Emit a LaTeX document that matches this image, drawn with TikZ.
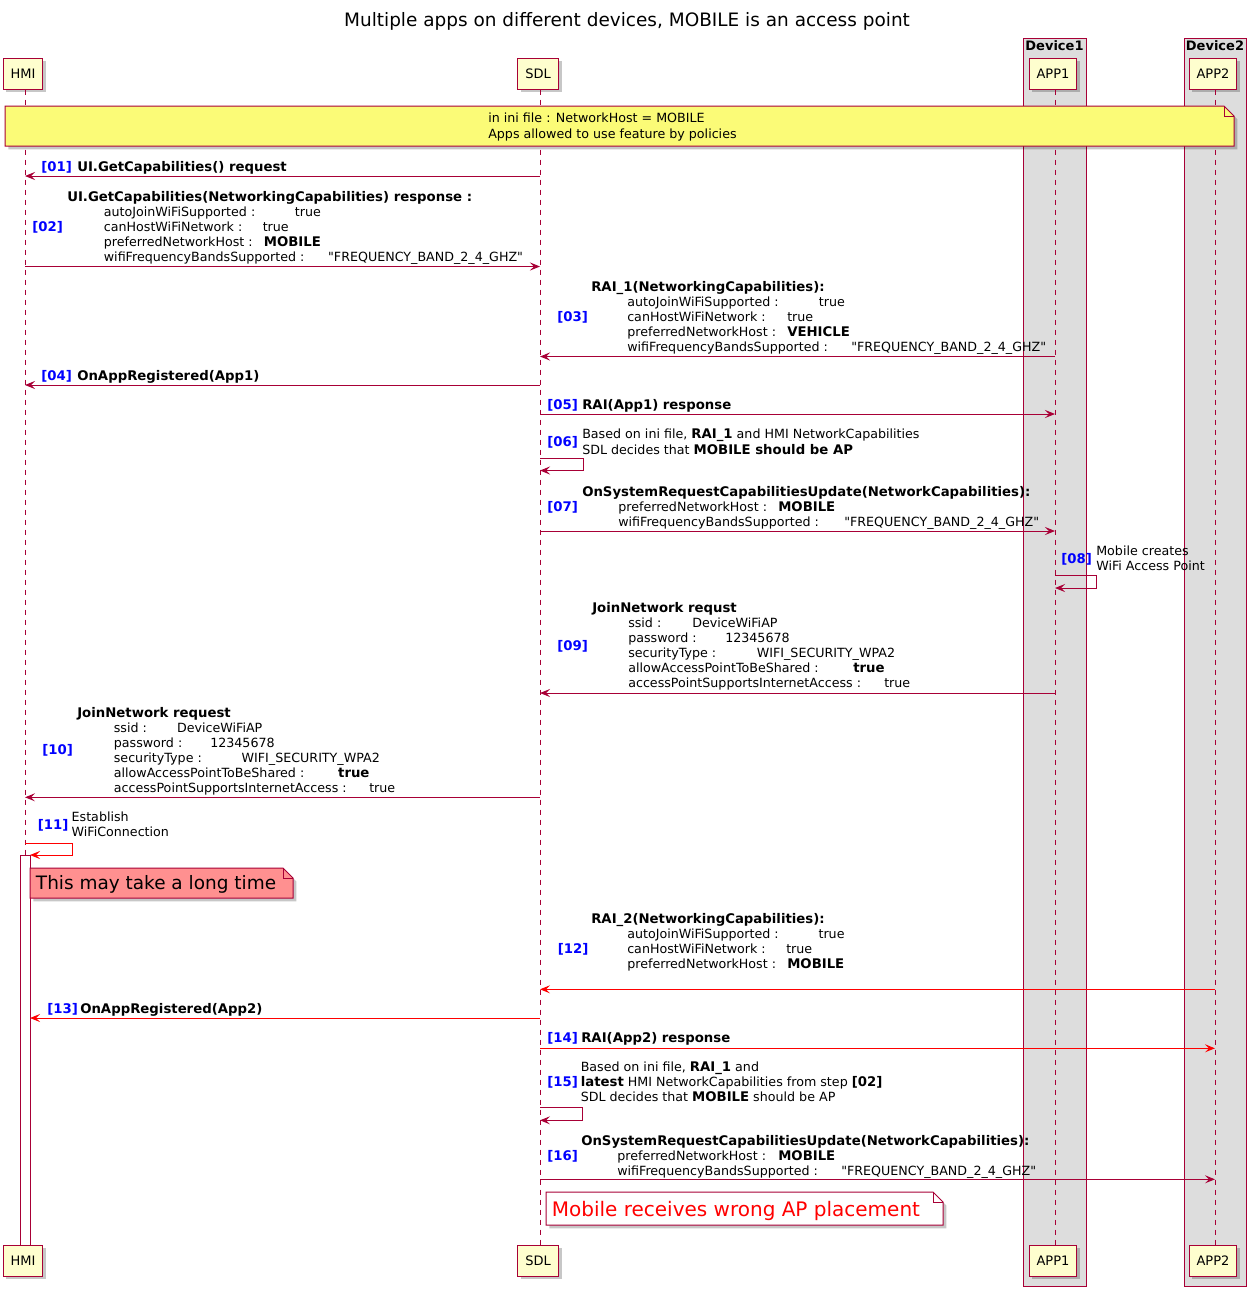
\documentclass[tikz,border=0pt]{standalone}
\usepackage{fontspec}
\setmainfont{DejaVu Sans}[Ligatures=TeXOff]
\usetikzlibrary{arrows.meta,shadows}
\definecolor{bord}{HTML}{A80036}
\definecolor{partfill}{HTML}{FEFECE}
\definecolor{noteY}{HTML}{FBFB77}
\definecolor{noteR}{HTML}{FF9090}
\definecolor{boxg}{HTML}{DDDDDD}
\definecolor{stepblue}{HTML}{0000FF}
\definecolor{redline}{HTML}{FF0000}
\newcommand\lb[4][]{\node[txt,#1] (#2) at (#3) {#4};}
\newcommand\freq{"FREQUENCY\_BAND\_2\_4\_GHZ"}
\newcommand\bfs{\fontsize{9.95}{11}\selectfont\bfseries}
\tikzset{
  txt/.style={anchor=base west, inner sep=0pt, font=\fontsize{9.5}{11}\selectfont},
  bftxt/.style={font=\bfs},
  num/.style={bftxt, text=stepblue},
  shad/.style={drop shadow={shadow xshift=2.5pt, shadow yshift=-2.5pt, fill=black, opacity=0.22}},
  part/.style={draw=bord, fill=partfill, line width=0.75pt, inner xsep=5.6pt, inner ysep=0pt,
    minimum height=23.25pt, font=\fontsize{9.75}{11}\selectfont, shad},
  lifeline/.style={draw=bord, line width=0.75pt, dash pattern=on 3.75pt off 3.75pt},
  msg/.style={draw=bord, line width=0.75pt, -{Stealth[length=7.5pt,width=6pt,inset=3pt]}},
  rmsg/.style={msg, draw=redline},
  notebox/.style={draw=bord, line width=0.75pt, shad},
  devbox/.style={draw=bord, fill=boxg, line width=0.75pt},
}
\begin{document}
\begin{tikzpicture}[x=0.75pt,y=-0.75pt]
\useasboundingbox (0,0) rectangle (1256,1296);

% title
\node[font=\fontsize{13.85}{16}\selectfont, inner sep=0pt] (title) at (627,21) {Multiple apps on different devices, MOBILE is an access point};

% device boxes
\filldraw[devbox] (1023,38) rectangle (1086,1286);
\filldraw[devbox] (1184,38) rectangle (1246,1286);
\node[font=\fontsize{9.75}{11}\selectfont\bfseries, anchor=base, inner sep=0pt] (dev1) at (1054.5,50) {Device1};
\node[font=\fontsize{9.75}{11}\selectfont\bfseries, anchor=base, inner sep=0pt] (dev2) at (1215,50) {Device2};

% participants
\node[part] (hmiT) at (23,73.5) {HMI};
\node[part] (sdlT) at (538,73.5) {SDL};
\node[part] (app1T) at (1053,73.5) {APP1};
\node[part] (app2T) at (1213,73.5) {APP2};
\node[part] (hmiB) at (23,1260.5) {HMI};
\node[part] (sdlB) at (538,1260.5) {SDL};
\node[part] (app1B) at (1053,1260.5) {APP1};
\node[part] (app2B) at (1213,1260.5) {APP2};

% lifelines
\draw[lifeline] ([xshift=1.5pt]hmiT.south) -- ([xshift=1.5pt]hmiB.north);
\draw[lifeline] ([xshift=1.5pt]sdlT.south) -- ([xshift=1.5pt]sdlB.north);
\draw[lifeline] ([xshift=1.5pt]app1T.south) -- ([xshift=1.5pt]app1B.north);
\draw[lifeline] ([xshift=1.5pt]app2T.south) -- ([xshift=1.5pt]app2B.north);

% top note
\filldraw[notebox, fill=noteY] (5,106) -- (1224,106) -- (1234,116) -- (1234,146) -- (5,146) -- cycle;
\draw[draw=bord, line width=0.75pt] (1224,106) -- (1224,116) -- (1234,116);
\lb{n1a}{488,122.5}{in ini file : NetworkHost = MOBILE}
\lb{n1b}{488,138.5}{Apps allowed to use feature by policies}

% [01]
\lb[num]{s01}{41,171.5}{[01]}
\lb[bftxt]{t01}{77,171.5}{UI.GetCapabilities() request}
\coordinate (m01a) at (540,176); \coordinate (m01b) at (25,176);
\draw[msg] (m01a) -- (m01b);

% [02]
\lb[num]{s02}{32,231}{[02]}
\lb[bftxt]{t02h}{67,201}{UI.GetCapabilities(NetworkingCapabilities) response :}
\lb{t02a}{103.6,216}{autoJoinWiFiSupported :}
\lb{t02av}{294.6,216}{true}
\lb{t02b}{103.6,231}{canHostWiFiNetwork :}
\lb{t02bv}{262.5,231}{true}
\lb{t02c}{103.6,246}{preferredNetworkHost :}
\lb[bftxt]{t02cv}{263.6,246}{MOBILE}
\lb{t02d}{103.6,261}{wifiFrequencyBandsSupported :}
\lb{t02dv}{327.9,261}{\freq}
\coordinate (m02a) at (25,266.5); \coordinate (m02b) at (540,266.5);
\draw[msg] (m02a) -- (m02b);

% [03]
\lb[num]{s03}{557,321}{[03]}
\lb[bftxt]{t03h}{591,291}{RAI\_1(NetworkingCapabilities):}
\lb{t03a}{627,306}{autoJoinWiFiSupported :}
\lb{t03av}{818.6,306}{true}
\lb{t03b}{627,321}{canHostWiFiNetwork :}
\lb{t03bv}{787,321}{true}
\lb{t03c}{627,336}{preferredNetworkHost :}
\lb[bftxt]{t03cv}{787,336}{VEHICLE}
\lb{t03d}{627,351}{wifiFrequencyBandsSupported :}
\lb{t03dv}{851,351}{\freq}
\coordinate (m03a) at (1055,356.5); \coordinate (m03b) at (540,356.5);
\draw[msg] (m03a) -- (m03b);

% [04]
\lb[num]{s04}{41,380}{[04]}
\lb[bftxt]{t04}{77,380}{OnAppRegistered(App1)}
\coordinate (m04a) at (540,385); \coordinate (m04b) at (25,385);
\draw[msg] (m04a) -- (m04b);

% [05]
\lb[num]{s05}{547,409.5}{[05]}
\lb[bftxt]{t05}{582,409.5}{RAI(App1) response}
\coordinate (m05a) at (540,414); \coordinate (m05b) at (1055,414);
\draw[msg] (m05a) -- (m05b);

% [06]
\lb[num]{s06}{547,446}{[06]}
\lb{t06a}{582,438}{Based on ini file, {\bfs RAI\_1} and HMI NetworkCapabilities}
\lb{t06b}{582,454}{SDL decides that {\bfs MOBILE should be AP}}
\coordinate (m06) at (540,458);
\draw[msg] (m06) -- ++(43,0) -- ++(0,12.5) -- ++(-43,0);

% [07]
\lb[num]{s07}{547,511}{[07]}
\lb[bftxt]{t07h}{582,496}{OnSystemRequestCapabilitiesUpdate(NetworkCapabilities):}
\lb{t07a}{618,511}{preferredNetworkHost :}
\lb[bftxt]{t07av}{778,511}{MOBILE}
\lb{t07b}{618,526}{wifiFrequencyBandsSupported :}
\lb{t07bv}{844,526}{\freq}
\coordinate (m07a) at (540,531); \coordinate (m07b) at (1055,531);
\draw[msg] (m07a) -- (m07b);

% [08]
\lb[num]{s08}{1061,563}{[08]}
\lb{t08a}{1096,555}{Mobile creates}
\lb{t08b}{1096,570}{WiFi Access Point}
\coordinate (m08) at (1055,575);
\draw[msg] (m08) -- ++(41.5,0) -- ++(0,13) -- ++(-41.5,0);

% [09]
\lb[num]{s09}{557,650.5}{[09]}
\lb[bftxt]{t09h}{592,612.5}{JoinNetwork requst}
\lb{t09a}{628,627.5}{ssid :}
\lb{t09av}{692,627.5}{DeviceWiFiAP}
\lb{t09b}{628,642.5}{password :}
\lb{t09bv}{725,642.5}{12345678}
\lb{t09c}{628,657.5}{securityType :}
\lb{t09cv}{756.6,657.5}{WIFI\_SECURITY\_WPA2}
\lb{t09d}{628,672.5}{allowAccessPointToBeShared :}
\lb[bftxt]{t09dv}{853,672.5}{true}
\lb{t09e}{628,687.5}{accessPointSupportsInternetAccess :}
\lb{t09ev}{884,687.5}{true}
\coordinate (m09a) at (1055,693); \coordinate (m09b) at (540,693);
\draw[msg] (m09a) -- (m09b);

% [10]
\lb[num]{s10}{42,754.5}{[10]}
\lb[bftxt]{t10h}{77,717}{JoinNetwork request}
\lb{t10a}{113.6,732}{ssid :}
\lb{t10av}{176.8,732}{DeviceWiFiAP}
\lb{t10b}{113.6,747}{password :}
\lb{t10bv}{210,747}{12345678}
\lb{t10c}{113.6,762}{securityType :}
\lb{t10cv}{241.4,762}{WIFI\_SECURITY\_WPA2}
\lb{t10d}{113.6,777}{allowAccessPointToBeShared :}
\lb[bftxt]{t10dv}{337.9,777}{true}
\lb{t10e}{113.6,792}{accessPointSupportsInternetAccess :}
\lb{t10ev}{369,792}{true}
\coordinate (m10a) at (540,797.3); \coordinate (m10b) at (25,797.3);
\draw[msg] (m10a) -- (m10b);

% [11]
\lb[num]{s11}{37.5,829.5}{[11]}
\lb{t11a}{71.4,821.5}{Establish}
\lb{t11b}{71.4,836.5}{WiFiConnection}

% activation bar
\filldraw[draw=bord, fill=white, line width=0.75pt] (20,855) rectangle (30,1245);
\coordinate (m11) at (25,843); \coordinate (act) at (30,855);
\draw[rmsg] (m11) -- (72.5,843) -- (72.5,855) -- (act);

% pink note
\filldraw[notebox, fill=noteR] (30,868) -- (283,868) -- (293,878) -- (293,898) -- (30,898) -- cycle;
\draw[draw=bord, line width=0.75pt] (283,868) -- (283,878) -- (293,878);
\node[anchor=base west, inner sep=0pt, font=\fontsize{13.85}{16}\selectfont] (nlong) at (35.7,889) {This may take a long time};

% [12]
\lb[num]{s12}{557.5,953.5}{[12]}
\lb[bftxt]{t12h}{591,923.5}{RAI\_2(NetworkingCapabilities):}
\lb{t12a}{627,938.5}{autoJoinWiFiSupported :}
\lb{t12av}{818.3,938.5}{true}
\lb{t12b}{627,953.5}{canHostWiFiNetwork :}
\lb{t12bv}{786,953.5}{true}
\lb{t12c}{627,968.5}{preferredNetworkHost :}
\lb[bftxt]{t12cv}{787,968.5}{MOBILE}
\coordinate (m12a) at (1215,989.3); \coordinate (m12b) at (540,989.3);
\draw[rmsg] (m12a) -- (m12b);

% [13]
\lb[num]{s13}{47,1013.5}{[13]}
\lb[bftxt]{t13}{80,1013.5}{OnAppRegistered(App2)}
\coordinate (m13a) at (540,1018); \coordinate (m13b) at (30,1018);
\draw[rmsg] (m13a) -- (m13b);

% [14]
\lb[num]{s14}{547,1042.5}{[14]}
\lb[bftxt]{t14}{581,1042.5}{RAI(App2) response}
\coordinate (m14a) at (540,1048.3); \coordinate (m14b) at (1215,1048.3);
\draw[rmsg] (m14a) -- (m14b);

% [15]
\lb[num]{s15}{547,1086.5}{[15]}
\lb{t15a}{580.5,1071.5}{Based on ini file, {\bfs RAI\_1} and}
\lb{t15b}{580.5,1086.5}{{\bfs latest} HMI NetworkCapabilities from step {\bfs [02]}}
\lb{t15c}{580.5,1101.5}{SDL decides that {\bfs MOBILE} should be AP}
\coordinate (m15) at (540,1107.5);
\draw[msg] (m15) -- ++(42.5,0) -- ++(0,12.8) -- ++(-42.5,0);

% [16]
\lb[num]{s16}{547,1160}{[16]}
\lb[bftxt]{t16h}{581,1145.5}{OnSystemRequestCapabilitiesUpdate(NetworkCapabilities):}
\lb{t16a}{617,1160}{preferredNetworkHost :}
\lb[bftxt]{t16av}{778,1160}{MOBILE}
\lb{t16b}{617,1175}{wifiFrequencyBandsSupported :}
\lb{t16bv}{841,1175}{\freq}
\coordinate (m16a) at (540,1179.3); \coordinate (m16b) at (1215,1179.3);
\draw[msg] (m16a) -- (m16b);

% bottom note
\filldraw[notebox, fill=white] (546,1192) -- (933,1192) -- (943,1202) -- (943,1225) -- (546,1225) -- cycle;
\draw[draw=bord, line width=0.75pt] (933,1192) -- (933,1202) -- (943,1202);
\node[anchor=base west, inner sep=0pt, text=redline, font=\fontsize{15}{18}\selectfont] (nwrong) at (551.6,1216) {Mobile receives wrong AP placement};
\end{tikzpicture}
\end{document}
